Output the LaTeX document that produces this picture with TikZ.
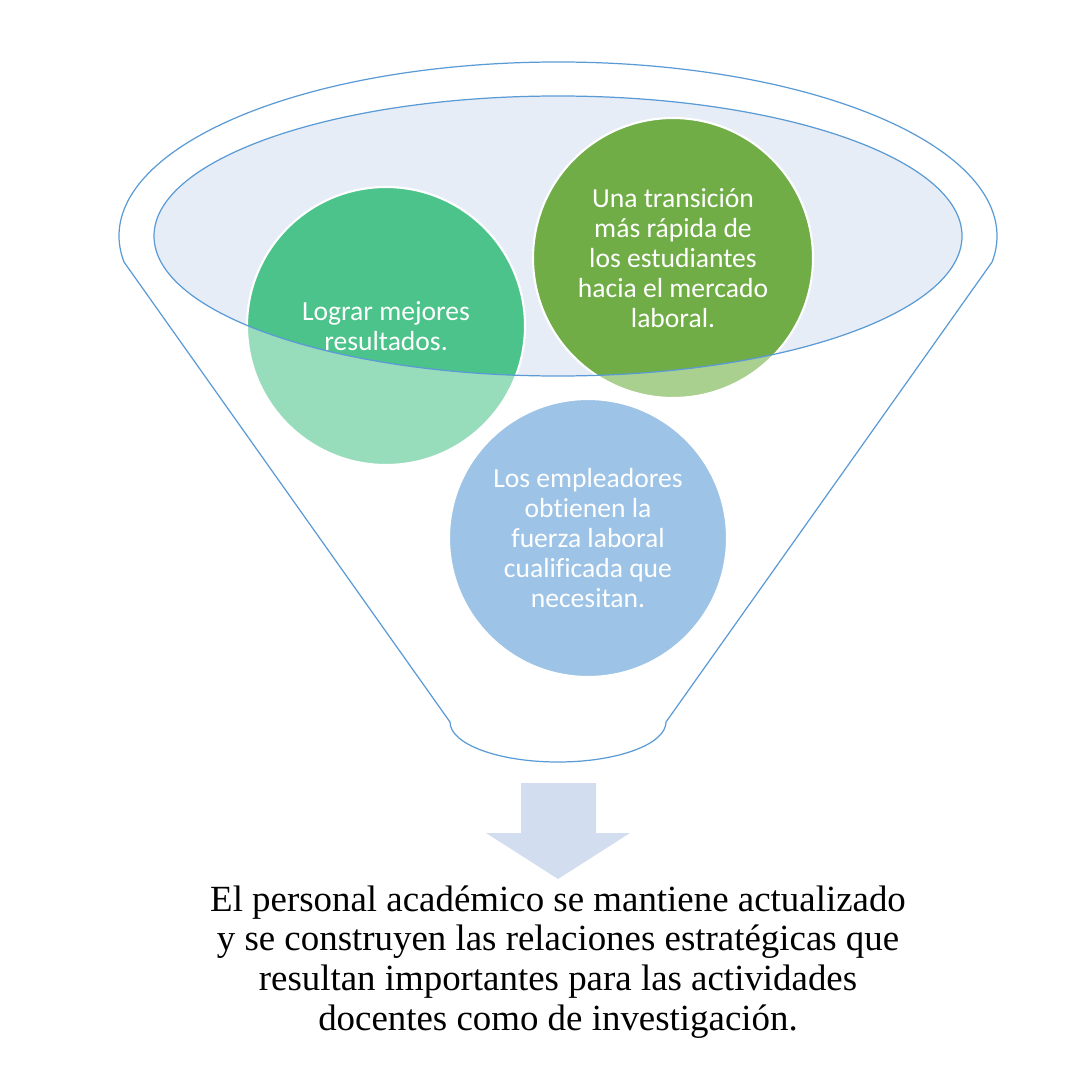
\documentclass[tikz,border=0pt]{standalone}
\usepackage{fontspec}
\setmainfont{Liberation Serif}
\newfontfamily\bubblefont[Ligatures=NoCommon]{Carlito}
\usepackage{tikz}

\definecolor{funnelline}{HTML}{5B9BD5}
\definecolor{innerfill}{HTML}{E6EDF7}
\definecolor{greenA}{HTML}{4CC38A}
\definecolor{greenAlight}{HTML}{97DCBB}
\definecolor{greenB}{HTML}{70AD47}
\definecolor{greenBlight}{HTML}{A9D08E}
\definecolor{blueC}{HTML}{9DC3E6}
\definecolor{arrowfill}{HTML}{D2DDEF}

\begin{document}
\begin{tikzpicture}[x=0.02cm, y=-0.02cm,
    bubbletext/.style={circle, minimum size=5.56cm, inner sep=0pt, align=center, text=white, font=\bubblefont\fontsize{15.7}{17}\selectfont},
    funnel/.style={funnelline, line width=0.7pt}]
    \useasboundingbox (0,0) rectangle (1067,1081);

    % centres
    \coordinate (cA) at (386,326);
    \coordinate (cB) at (673,258);
    \coordinate (cC) at (588,538);
    \coordinate (mouth) at (558,236);

    % funnel body
    \draw[funnel] (124,262) arc[start angle=171.4, end angle=368.6, x radius=439, y radius=174]
        -- (666,722) arc[start angle=0, end angle=180, x radius=108, y radius=40] -- cycle;
    \fill[innerfill] (mouth) ellipse[x radius=404, y radius=140];

    % circles
    \fill[greenAlight] (cA) circle[radius=139];
    \fill[greenBlight] (cB) circle[radius=140];
    \fill[blueC] (cC) circle[radius=139];
    \begin{scope}
        \clip (mouth) ellipse[x radius=404, y radius=140];
        \fill[greenA] (cA) circle[radius=139];
        \fill[greenB] (cB) circle[radius=140];
    \end{scope}
    \draw[white, line width=1.2pt] (cA) circle[radius=139];
    \draw[white, line width=1.2pt] (cB) circle[radius=140];
    \draw[white, line width=1.2pt] (cC) circle[radius=139];
    \draw[funnel] (mouth) ellipse[x radius=404, y radius=140];

    % labels
    \node[bubbletext] (logro) at (cA) {Lograr mejores\\resultados.};
    \node[bubbletext] (transicion) at (cB) {Una transición\\más rápida de\\los estudiantes\\hacia el mercado\\laboral.};
    \node[bubbletext] (empleadores) at (cC) {Los empleadores\\obtienen la\\fuerza laboral\\cualificada que\\necesitan.};

    % arrow
    \fill[arrowfill] (521,783) -- (596,783) -- (596,833) -- (630,833) -- (558,879)
        -- (486,833) -- (521,833) -- cycle;

    \node[font=\fontsize{21}{22.7}\selectfont, align=center, inner sep=0pt] (resultado) at (558,962)
        {El personal académico se mantiene actualizado\\y se construyen las relaciones estratégicas que\\resultan importantes para las actividades\\docentes como de investigación.};
\end{tikzpicture}
\end{document}
